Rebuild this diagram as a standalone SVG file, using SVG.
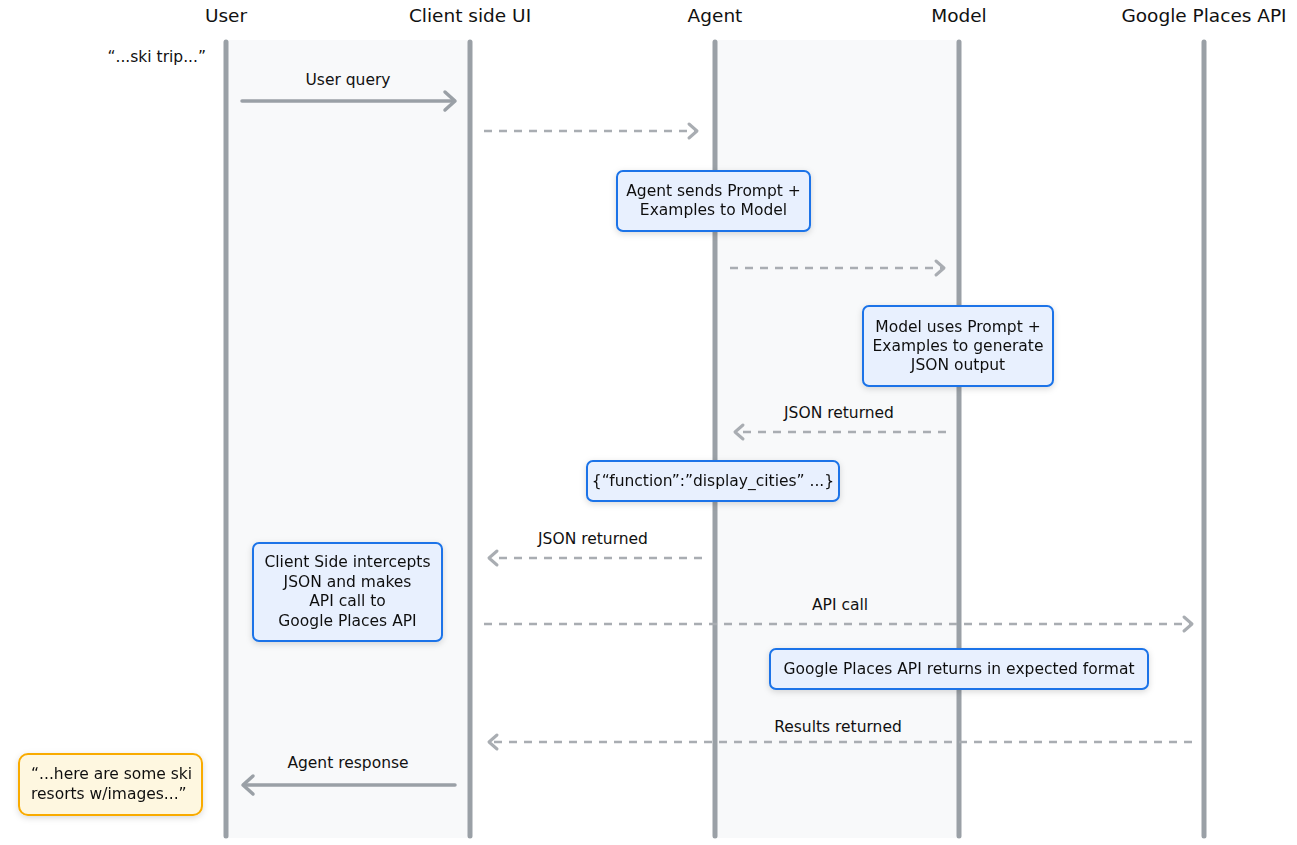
<svg xmlns="http://www.w3.org/2000/svg" width="1297" height="845" viewBox="0 0 1297 845">
<style>
text{font-family:"DejaVu Sans","Open Sans",sans-serif;fill:#111111}
.hd{font-size:18.5px;text-anchor:middle}
.lbl{font-size:15.5px;text-anchor:middle}
.bt{font-size:15.5px;text-anchor:middle}
.life{stroke:#9aa0a6;stroke-width:5;stroke-linecap:round;fill:none}
.band{fill:#f8f9fa}
.solid{stroke:#9aa0a6;stroke-width:3.5;fill:none;stroke-linecap:round}
.dash{stroke:#a9adb2;stroke-width:2.5;fill:none;stroke-dasharray:8 7}
.box{fill:#e8f0fe;stroke:#1a73e8;stroke-width:2}
.ybox{fill:#fef7e0;stroke:#f9ab00;stroke-width:2}
.head{stroke:#9aa0a6;stroke-width:3.5;fill:none;stroke-linecap:round;stroke-linejoin:round}
.dhead{stroke:#a9adb2;stroke-width:3;fill:none;stroke-linecap:round;stroke-linejoin:round}
</style>
<defs>
<filter id="sh" x="-20%" y="-30%" width="140%" height="170%">
<feDropShadow dx="0" dy="2" stdDeviation="3" flood-color="#000" flood-opacity="0.15"/>
</filter>
</defs>
<rect width="1297" height="845" fill="#ffffff"/>
<g id="bands">
<rect class="band" x="226" y="40" width="244" height="798"/>
<rect class="band" x="715" y="40" width="244" height="798"/>
</g>
<g id="lifelines">
<line class="life" x1="226" y1="42" x2="226" y2="836"/>
<line class="life" x1="470" y1="42" x2="470" y2="836"/>
<line class="life" x1="715" y1="42" x2="715" y2="836"/>
<line class="life" x1="959" y1="42" x2="959" y2="836"/>
<line class="life" x1="1204" y1="42" x2="1204" y2="836"/>
</g>
<g id="headers">
<text class="hd" x="226" y="22">User</text>
<text class="hd" x="470" y="22">Client side UI</text>
<text class="hd" x="715" y="22">Agent</text>
<text class="hd" x="959" y="22">Model</text>
<text class="hd" x="1204" y="22">Google Places API</text>
</g>
<g id="connectors">
<line class="solid" x1="242" y1="101" x2="454" y2="101"/>
<polyline class="head" points="445,92 455,101 445,110"/>
<text class="lbl" x="348" y="85">User query</text>
<line class="dash" x1="484" y1="131" x2="695" y2="131"/>
<polyline class="dhead" points="689,124 697,131 689,138"/>
<line class="dash" x1="730" y1="268" x2="942" y2="268"/>
<polyline class="dhead" points="936,261 944,268 936,275"/>
<text class="lbl" x="839" y="418">JSON returned</text>
<line class="dash" x1="946" y1="432" x2="738" y2="432"/>
<polyline class="dhead" points="743,425 735,432 743,439"/>
<text class="lbl" x="593" y="544">JSON returned</text>
<line class="dash" x1="702" y1="558" x2="492" y2="558"/>
<polyline class="dhead" points="497,551 489,558 497,565"/>
<text class="lbl" x="840" y="610">API call</text>
<line class="dash" x1="484" y1="624" x2="1190" y2="624"/>
<polyline class="dhead" points="1184,617 1192,624 1184,631"/>
<text class="lbl" x="838" y="732">Results returned</text>
<line class="dash" x1="1192" y1="742" x2="492" y2="742"/>
<polyline class="dhead" points="497,735 489,742 497,749"/>
<text class="lbl" x="348" y="768">Agent response</text>
<line class="solid" x1="455" y1="785" x2="244" y2="785"/>
<polyline class="head" points="253,776 243,785 253,794"/>
</g>
<g id="user-quote">
<text class="lbl" x="206" y="62" style="text-anchor:end">“...ski trip...”</text>
</g>
<g id="box-agent-sends" filter="url(#sh)">
<rect class="box" x="617" y="171" width="193" height="60" rx="6"/>
<text class="bt" x="713.5" y="196">Agent sends Prompt +</text>
<text class="bt" x="713.5" y="215">Examples to Model</text>
</g>
<g id="box-model-uses" filter="url(#sh)">
<rect class="box" x="863" y="306" width="190" height="80" rx="6"/>
<text class="bt" x="958" y="332">Model uses Prompt +</text>
<text class="bt" x="958" y="351">Examples to generate</text>
<text class="bt" x="958" y="370">JSON output</text>
</g>
<g id="box-json" filter="url(#sh)">
<rect class="box" x="587" y="461" width="252" height="40" rx="6"/>
<text class="bt" x="713" y="486">{“function”:”display_cities” ...}</text>
</g>
<g id="box-client-intercepts" filter="url(#sh)">
<rect class="box" x="253" y="543" width="189" height="98" rx="6"/>
<text class="bt" x="347.5" y="567">Client Side intercepts</text>
<text class="bt" x="347.5" y="586.5">JSON and makes</text>
<text class="bt" x="347.5" y="606">API call to</text>
<text class="bt" x="347.5" y="625.5">Google Places API</text>
</g>
<g id="box-places-returns" filter="url(#sh)">
<rect class="box" x="770" y="649" width="378" height="40" rx="6"/>
<text class="bt" x="959" y="674">Google Places API returns in expected format</text>
</g>
<g id="box-response" filter="url(#sh)">
<rect class="ybox" x="19" y="754" width="183" height="61" rx="9"/>
<text class="bt" x="31" y="779" style="text-anchor:start">“...here are some ski</text>
<text class="bt" x="31" y="799" style="text-anchor:start">resorts w/images...”</text>
</g>
</svg>
